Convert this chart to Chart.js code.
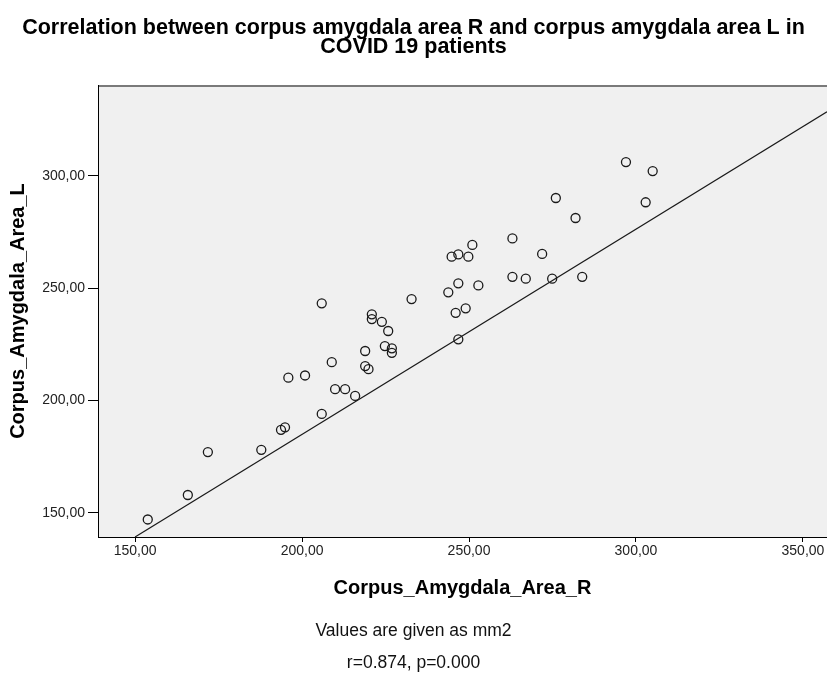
<!DOCTYPE html>
<html>
<head>
<meta charset="utf-8">
<script src="https://cdn.jsdelivr.net/npm/chart.js@4.4.1/dist/chart.umd.min.js"></script>
<style>
  html, body { margin: 0; padding: 0; background: #fff; }
  #wrap { width: 827px; height: 677px; }
</style>
</head>
<body>
<div id="wrap"><canvas id="scatter"></canvas></div>
<script>
// values (mm2)
const areaR = [153.8, 165.8, 171.8, 187.8, 193.7, 194.9, 195.9, 200.9, 205.9, 208.9,
               209.9, 212.9, 215.9, 218.9, 218.9, 219.9, 224.8, 226.9, 226.9, 225.8,
               246.8, 205.9, 220.9, 220.9, 223.9, 232.8, 244.8, 246.8, 249.8, 251.0,
               243.8, 246.8, 252.8, 246.0, 249.0, 297.0, 305.0, 276.0, 281.9, 302.9,
               263.0, 271.9, 263.0, 267.0, 274.9, 283.9];
const areaL = [147.1, 158.0, 177.1, 178.1, 187.0, 188.1, 210.2, 211.2, 194.1, 217.1,
               205.1, 205.1, 202.1, 222.1, 215.4, 214.0, 224.3, 223.3, 221.3, 231.0,
               227.3, 243.3, 238.4, 236.3, 235.1, 245.2, 264.1, 265.1, 264.1, 269.3,
               248.2, 252.2, 251.3, 239.1, 241.1, 306.2, 302.2, 290.2, 281.3, 288.3,
               272.2, 265.3, 255.1, 254.3, 254.3, 255.1];

// fit line end points
const fitR = [150, 357.2];
const fitL = [139.3, 328.6];

const xTicks = [150, 200, 250, 300, 350];
const yTicks = [150, 200, 250, 300];

const titleLines = ['Correlation between corpus amygdala area R and corpus amygdala area L in', 'COVID 19 patients'];
const notes = ['Values are given as mm2', 'r=0.874, p=0.000'];

const points = areaR.map((r, i) => ({ x: r, y: areaL[i] }));
const fit = fitR.map((r, i) => ({ x: r, y: fitL[i] }));

const fam = "'Liberation Sans', Arial, sans-serif";

function commaLabel(v) {
  return Number(v).toFixed(2).replace('.', ',');
}

// grey plot background + top frame line
const plotBg = {
  id: 'plotBg',
  beforeDraw(chart) {
    const { ctx, chartArea: a } = chart;
    ctx.save();
    ctx.fillStyle = '#f0f0f0';
    ctx.fillRect(a.left, a.top, a.right - a.left, a.bottom - a.top);
    ctx.strokeStyle = '#7a7a7a';
    ctx.lineWidth = 2;
    ctx.beginPath();
    ctx.moveTo(a.left, a.top + 1);
    ctx.lineTo(a.right, a.top + 1);
    ctx.stroke();
    ctx.restore();
  }
};

new Chart(document.getElementById('scatter'), {
  type: 'scatter',
  data: {
    datasets: [
      {
        data: points,
        pointRadius: 4.5,
        pointHoverRadius: 4.5,
        pointBorderWidth: 1.3,
        borderColor: '#1a1a1a',
        backgroundColor: 'rgba(0,0,0,0)',
        order: 1
      },
      {
        type: 'line',
        data: fit,
        borderColor: '#1a1a1a',
        borderWidth: 1.2,
        pointRadius: 0,
        fill: false,
        order: 2
      }
    ]
  },
  options: {
    responsive: true,
    maintainAspectRatio: false,
    animation: false,
    layout: { padding: 0, autoPadding: false },
    plugins: {
      legend: { display: false },
      tooltip: { enabled: false },
      title: {
        display: true,
        text: titleLines,
        color: '#000',
        font: { family: fam, size: 21.5, weight: 'bold', lineHeight: 19.5 / 21.5 },
        padding: { top: 18, bottom: 28 }
      },
      subtitle: {
        display: true,
        position: 'bottom',
        text: notes,
        color: '#111',
        font: { family: fam, size: 17.5, weight: 'normal', lineHeight: 32 / 17.5 },
        padding: { top: 0, bottom: -2 }
      }
    },
    scales: {
      x: {
        type: 'linear',
        min: 138.9,
        max: 357.2,
        afterBuildTicks: s => { s.ticks = xTicks.map(v => ({ value: v })); },
        afterFit: s => { s.height = 78; s.paddingLeft = 0; s.paddingRight = 0; },
        ticks: { callback: commaLabel, color: '#222', padding: 1, maxRotation: 0,
                 font: { family: fam, size: 14 } },
        grid: { drawOnChartArea: false, tickLength: 5, color: '#000', tickWidth: 1 },
        border: { color: '#000', width: 1 },
        title: { display: true, text: 'Corpus_Amygdala_Area_R', color: '#000',
                 font: { family: fam, size: 20, weight: 'bold' },
                 padding: { top: 0, bottom: 15 } }
      },
      y: {
        type: 'linear',
        min: 139.3,
        max: 340.5,
        afterBuildTicks: s => { s.ticks = yTicks.map(v => ({ value: v })); },
        afterFit: s => { s.width = 98; s.paddingTop = 0; s.paddingBottom = 0; },
        ticks: { callback: commaLabel, color: '#222', padding: 3,
                 font: { family: fam, size: 14 } },
        grid: { drawOnChartArea: false, tickLength: 10, color: '#000', tickWidth: 1 },
        border: { color: '#000', width: 1 },
        title: { display: true, text: 'Corpus_Amygdala_Area_L', color: '#000',
                 font: { family: fam, size: 20, weight: 'bold' },
                 padding: { top: 6, bottom: 0 } }
      }
    }
  },
  plugins: [plotBg]
});
</script>
</body>
</html>
